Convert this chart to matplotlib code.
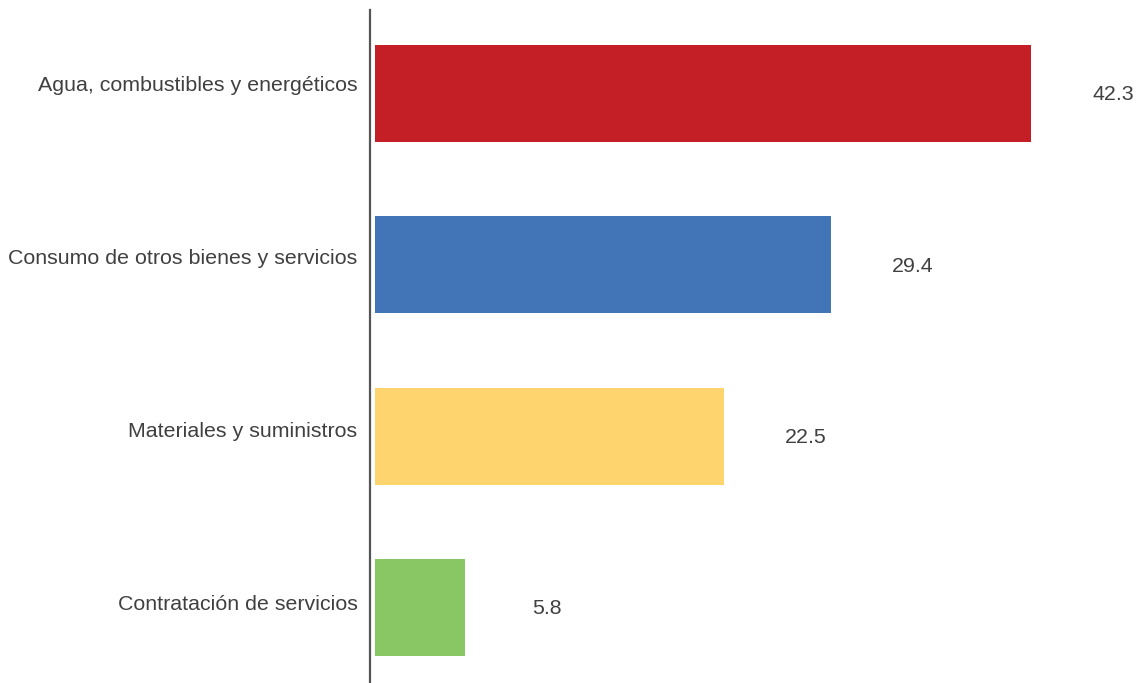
import matplotlib.pyplot as plt

categories = ['Agua, combustibles y energéticos',
              'Consumo de otros bienes y servicios',
              'Materiales y suministros',
              'Contratación de servicios']
values = [42.3, 29.4, 22.5, 5.8]
colors = ['#C41F26', '#4275B8', '#FED46E', '#88C764']

plt.rcParams['font.family'] = ['Liberation Sans', 'DejaVu Sans']
text_color = '#404040'

fig = plt.figure(figsize=(11.41, 6.83), dpi=100)
ax = fig.add_axes([370 / 1141, 0, 1 - 370 / 1141, 673 / 683])

y = list(range(len(categories)))
ax.barh(y, values, height=0.565, color=colors, left=0)

# value labels sit a fixed distance right of each bar
for i, v in enumerate(values):
    ax.annotate(f'{v:.1f}', xy=(v, i), xytext=(59, -1), textcoords='offset points',
                ha='center', va='center', fontsize=15.4, color=text_color)

# category names ride a little above the bar centres
ax.set_yticks([i * 1.01 - 0.058 for i in y])
ax.set_yticklabels(categories, fontsize=15.4, color=text_color)
ax.tick_params(axis='y', length=0, pad=9)
ax.set_xticks([])

ax.set_xlim(-0.32, 49.4)
ax.set_ylim(3.44, -0.487)

for side in ['top', 'right', 'bottom']:
    ax.spines[side].set_visible(False)
ax.spines['left'].set_color('#555555')
ax.spines['left'].set_linewidth(1.6)

fig.savefig('out.png', dpi=100)
